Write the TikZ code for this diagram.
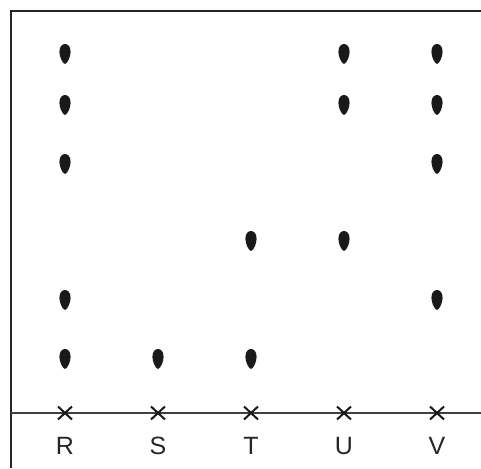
\documentclass[tikz,border=0pt]{standalone}
\usepackage{fontspec}
\setmainfont{Liberation Sans}
\begin{document}
\begin{tikzpicture}[x=1pt,y=-1pt,
  frame/.style={line width=2.5pt,draw=black!85},
  axisline/.style={line width=1.3pt,draw=black!75},
  crossmark/.style={line width=2pt,draw=black!90},
  lbl/.style={font=\fontsize{25}{25}\selectfont,text=black!85,inner sep=0pt,anchor=center},
  drop/.pic={\fill[black!90] (0,10) .. controls (-2.8,9.5) and (-5.6,2) .. (-5.6,-2.2) .. controls (-5.6,-7.5) and (-2.8,-10) .. (0,-10) .. controls (2.8,-10) and (5.6,-7.5) .. (5.6,-2.2) .. controls (5.6,2) and (2.8,9.5) .. (0,10) -- cycle;}
]
\useasboundingbox (0,0) rectangle (481,468);
\coordinate (tl) at (11,11);
\coordinate (tr) at (481,11);
\coordinate (bl) at (11,468);
\coordinate (al) at (11,413);
\coordinate (ar) at (481,413);
\draw[frame] (tr) -- (tl) -- (bl);
\draw[axisline] (al) -- (ar);
\foreach \n/\x in {R/65,S/158,T/251,U/344,V/437}{
  \coordinate (c\n) at (\x,413);
  \draw[crossmark] ([shift={(-7,-6.5)}]c\n) -- ([shift={(7,6.5)}]c\n);
  \draw[crossmark] ([shift={(-7,6.5)}]c\n) -- ([shift={(7,-6.5)}]c\n);
  \node[lbl] (l\n) at (\x,446) {\n};
}
\foreach \x/\y in {65/54,65/105,65/164,65/300,65/359,
  158/359,
  251/241,251/359,
  344/54,344/105,344/241,
  437/54,437/105,437/164,437/300}{
  \pic at (\x,\y) {drop};
}
\end{tikzpicture}
\end{document}
